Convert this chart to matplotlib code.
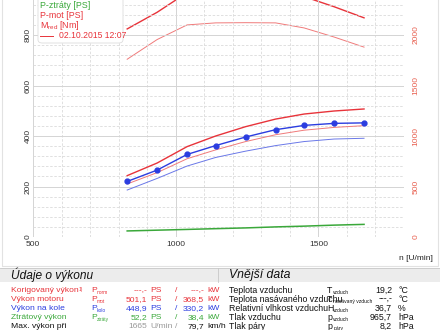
import matplotlib.pyplot as plt
from matplotlib.patches import Rectangle, FancyBboxPatch
from matplotlib.ticker import MultipleLocator

plt.rcParams['font.family'] = ['Liberation Sans', 'DejaVu Sans']
plt.rcParams['mathtext.fontset'] = 'custom'
plt.rcParams['mathtext.rm'] = 'Liberation Sans'
plt.rcParams['mathtext.it'] = 'Liberation Sans:italic'

# Data
otacky = [830, 935, 1040, 1140, 1245, 1350, 1450, 1555, 1660]
p_kolo = [220, 265, 327, 362, 396, 425, 442, 450, 452]
p_mot = [243, 293, 358, 400, 437, 467, 487, 499, 507]
p_mot_tenka = [210, 255, 310, 345, 378, 405, 423, 434, 441]
p_kolo_tenka = [186, 232, 281, 315, 340, 362, 378, 388, 391]
p_ztraty = [24, 27, 30, 33, 36, 40, 43, 47, 50]
m_red = [2060, 2225, 2420, 2470, 2480, 2460, 2380, 2280, 2170]
m_red_tenka = [1760, 1955, 2100, 2120, 2122, 2120, 2070, 1980, 1880]

RED = '#e8333a'
BLUE = '#2b3de0'
GREEN = '#3aa83a'
TORQ = '#e86050'

fig = plt.figure(figsize=(4.4, 3.3), dpi=100)
W, H = 440, 330


def fx(px):
    return px / W


def fy(py):
    return 1 - py / H


def symbol(x, y, main, sub, color, fs):
    # letter with a small subscript, like the dyno printout
    fig.text(fx(x), fy(y), main, color=color, fontsize=fs, va='center')
    fig.text(fx(x + fs * 1.0), fy(y + 2.2), sub, color=color, fontsize=fs * 0.58, va='center')


ax = fig.add_axes([fx(33), fy(237), fx(404) - fx(33), 252.5 / H])
ax.set_xlim(500, 1800)
ax.set_ylim(0, 1000)
ax2 = ax.twinx()
ax2.set_ylim(0, 2500)

ax.xaxis.set_major_locator(MultipleLocator(500))
ax.xaxis.set_minor_locator(MultipleLocator(100))
ax.yaxis.set_major_locator(MultipleLocator(200))
ax.yaxis.set_minor_locator(MultipleLocator(40))
ax2.yaxis.set_major_locator(MultipleLocator(500))
ax.grid(which='major', color='#d4d4d4', lw=0.7)
ax.grid(which='minor', color='#dadada', lw=0.6, ls=(0, (3, 2)))
ax.set_axisbelow(True)
for a in (ax, ax2):
    for s in a.spines.values():
        s.set_visible(False)
ax.tick_params(which='both', length=0, labelsize=6, pad=3, colors='#333333')
ax.tick_params(axis='y', labelrotation=90, pad=1)
ax2.tick_params(length=0, labelsize=6, pad=6, colors=TORQ, labelrotation=90)
for lab in ax.get_yticklabels() + ax2.get_yticklabels():
    lab.set_va('center')

ax.plot(otacky, p_ztraty, color=GREEN, lw=1.1)
ax.plot(otacky, p_kolo_tenka, color='#6a78e8', lw=0.7)
ax.plot(otacky, p_mot_tenka, color='#f07a7a', lw=0.7)
ax.plot(otacky, p_mot, color=RED, lw=1.0)
ax.plot(otacky, p_kolo, color=BLUE, lw=1.0, marker='o', ms=3.5)
ax2.plot(otacky, m_red_tenka, color='#f07a7a', lw=0.7)
ax2.plot(otacky, m_red, color=RED, lw=1.0)

ax.set_zorder(ax2.get_zorder() + 1)
ax.patch.set_visible(False)

# legend box
leg = FancyBboxPatch((fx(38), fy(43)), fx(123) - fx(38), fy(-10) - fy(43),
                     boxstyle='round,pad=0,rounding_size=0.01',
                     transform=fig.transFigure, fc='white', ec='#dddddd', lw=0.6, zorder=5)
fig.patches.append(leg)
leg_items = [('P-kolo [PS]', BLUE, -4), ('P-ztráty [PS]', GREEN, 6),
             ('P-mot [PS]', RED, 15.5), (r'M$_{\mathrm{red}}$ [Nm]', RED, 25)]
for txt, c, y in leg_items:
    fig.text(fx(40), fy(y), txt, color=c, fontsize=6.4, va='center', zorder=6)
fig.add_artist(plt.Line2D([fx(40), fx(53)], [fy(36), fy(36)], color=RED, lw=0.7,
                          transform=fig.transFigure, zorder=6))
fig.text(fx(59), fy(36), '02.10.2015 12:07', color=RED, fontsize=6.2, va='center', zorder=6)

fig.text(fx(433), fy(258), 'n [U/min]', fontsize=6, ha='right', va='center', color='#222222')

# panel frame
fig.add_artist(Rectangle((fx(2), fy(266)), fx(436), fy(-5) - fy(266), transform=fig.transFigure,
                         fill=False, ec='#e2e2e2', lw=0.8))

# bottom headers
fig.add_artist(Rectangle((0, fy(282)), 1, fy(268) - fy(282), transform=fig.transFigure,
                         fc='#ececec', ec='none'))
fig.add_artist(plt.Line2D([0, 1], [fy(268), fy(268)], color='#c8c8c8', lw=0.6,
                          transform=fig.transFigure))
fig.add_artist(plt.Line2D([fx(218), fx(218)], [fy(268), fy(282)], color='#c8c8c8', lw=0.6,
                          transform=fig.transFigure))
fig.text(fx(11), fy(275), 'Údaje o výkonu', fontsize=8.6, style='italic', va='center', color='#111111')
fig.text(fx(229), fy(275), 'Vnější data', fontsize=8.8, style='italic', va='center', color='#111111')

row_y = [290.5, 299.5, 308.5, 317.5, 326.5]
vykon_labels = ['Korigovaný výkon', 'Výkon motoru', 'Výkon na kole', 'Ztrátový výkon', 'Max. výkon při']
vykon_sub = ['norm', 'mot', 'kolo', 'ztráty', None]
vykon_ps = ['---,-', '501,1', '448,9', '52,2', '1665']
vykon_kw = ['---,-', '368,5', '330,2', '38,4', '79,7']
vykon_u1 = ['PS', 'PS', 'PS', 'PS', 'U/min']
vykon_u2 = ['kW', 'kW', 'kW', 'kW', 'km/h']
vykon_col = [RED, RED, BLUE, GREEN, '#111111']

fs = 6.1
for i, y in enumerate(row_y):
    c = vykon_col[i]
    yy = fy(y)
    fig.text(fx(11), yy, vykon_labels[i], color=c, fontsize=fs, va='center')
    if vykon_sub[i]:
        symbol(91, y, 'P', vykon_sub[i], c, fs)
    c2 = '#999999' if i == 4 else c
    fig.text(fx(147), yy, vykon_ps[i], color=c2, fontsize=fs, va='center', ha='right')
    fig.text(fx(150), yy, vykon_u1[i], color=c2, fontsize=fs, va='center')
    fig.text(fx(176), yy, '/', color=c2, fontsize=fs, va='center', ha='center')
    fig.text(fx(204), yy, vykon_kw[i], color=c, fontsize=fs, va='center', ha='right')
    fig.text(fx(207), yy, vykon_u2[i], color=c, fontsize=fs, va='center')
fig.text(fx(79), fy(289.5), '1)', color=RED, fontsize=3.5, va='center')

vnejsi_labels = ['Teplota vzduchu', 'Teplota nasávaného vzduchu', 'Relativní vlhkost vzduchu',
                 'Tlak vzduchu', 'Tlak páry']
vnejsi_main = ['T', 'T', 'H', 'p', 'p']
vnejsi_sub = ['vzduch', 'nasávaný vzduch', 'vzduch', 'vzduch', 'páry']
vnejsi_val = ['19,2', '---,-', '36,7', '965,7', '8,2']
vnejsi_unit = ['°C', '°C', '%', 'hPa', 'hPa']
fs2 = 6.3
for i, y in enumerate(row_y):
    yy = fy(y)
    fig.text(fx(229), yy, vnejsi_labels[i], color='#111111', fontsize=fs2, va='center')
    symbol(327, y, vnejsi_main[i], vnejsi_sub[i], '#111111', fs2)
    fig.text(fx(392), yy, vnejsi_val[i], color='#111111', fontsize=fs2, va='center', ha='right')
    fig.text(fx(398), yy, vnejsi_unit[i], color='#111111', fontsize=fs2, va='center')

fig.savefig('out.png', dpi=100)
